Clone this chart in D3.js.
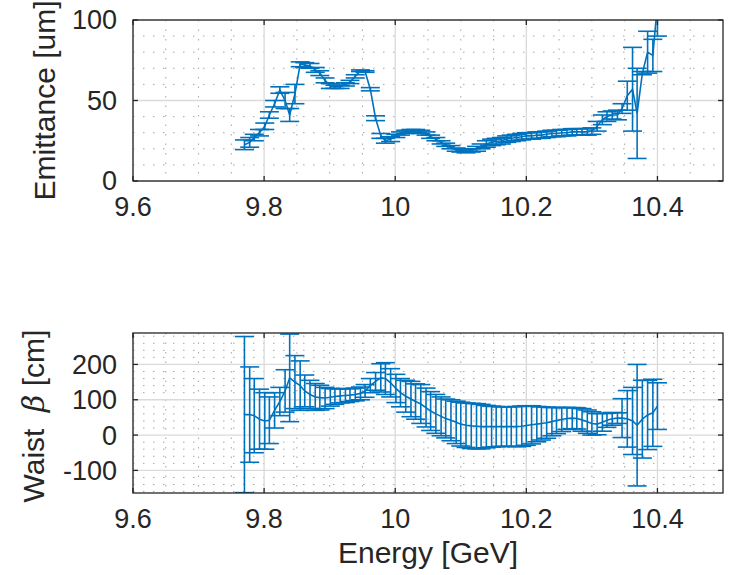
<!DOCTYPE html>
<html><head><meta charset="utf-8">
<script src="https://cdn.jsdelivr.net/npm/d3@7"></script>
<style>body{margin:0;background:#fff}svg{display:block}text{font-family:"Liberation Sans",Arial,Helvetica,sans-serif;fill:#262626}</style>
</head><body><svg id="c" width="731" height="575"></svg>
<script>
const energy=[9.770,9.778,9.785,9.793,9.801,9.808,9.816,9.824,9.832,9.839,
9.847,9.855,9.862,9.870,9.878,9.885,9.893,9.901,9.908,9.916,
9.924,9.931,9.939,9.947,9.954,9.962,9.970,9.978,9.985,9.993,
10.001,10.008,10.016,10.024,10.031,10.039,10.047,10.054,10.062,10.070,
10.077,10.085,10.093,10.100,10.108,10.116,10.124,10.131,10.139,10.147,
10.154,10.162,10.170,10.177,10.185,10.193,10.200,10.208,10.216,10.223,
10.231,10.239,10.246,10.254,10.262,10.270,10.277,10.285,10.293,10.300,
10.308,10.316,10.323,10.331,10.339,10.346,10.354,10.362,10.369,10.377,
10.385,10.393,10.400];
const emittance=[22.5,24,27,30,34,41,48,56.5,50,41,
54,72.5,72,71.5,69,67,62.5,59,58.5,58.5,
60,61.5,65,68.5,68,57,39,28,25,26,
28,29.5,30.5,31,31,30.5,29.5,27.5,26,24,
22.5,21,19.5,19,18.5,19,20,21.5,23,24,
24.5,25,26,26.5,27,27.5,28,28,28.5,28.5,
29,29.5,29.5,30,30,30.5,30.5,30.5,30.5,31,
34,38,40,41,41,45,53,57,42,67,
80,78,110];
const emittanceErr=[3,3,2,2,2,2,2,2,5,4,
6,1.5,1.5,1.5,1.5,1.5,1.5,1.5,1,1,
1,1,1,0.5,0.5,1,1.5,1.5,1.5,1.5,
1,1,1,1,1,1,1,1,1,1,
1,1,1,1,1,1,1.5,1.5,2,2,
2,2,2,2,2,2,2,2,2,2,
2,2,2,2,2,2,2,2,2,2,
3,3,3,2.5,3,3,9,26,28,1,
13,10,20];
const waist=[58,58,55,45,40,42,70,95,125,162,
150,140,125,115,108,106,105,107,109,111,
112,113,115,118,125,140,152,162,160,148,
132,120,110,102,95,88,78,68,60,53,
47,42,36,31,28,26,25,24,24,24,
24,24,24,24,24,25,27,29,31,33,
35,38,41,44,47,48,47,43,38,33,
31,36,42,46,48,48,46,40,28,45,
57,63,82];
const waistErr=[221,135,105,85,80,66,50,40,60,124,
75,70,45,40,38,35,30,25,22,20,
20,18,18,18,18,20,25,40,45,40,
40,40,45,50,50,55,55,55,55,55,
55,58,60,62,63,64,64,63,60,58,
57,56,56,56,57,57,56,54,50,47,
44,40,37,34,31,30,30,32,33,33,
30,25,20,18,15,55,80,95,172,110,
98,95,66];
const xTicks=[9.6,9.8,10,10.2,10.4];
const xTickLabels=["9.6","9.8","10","10.2","10.4"];
const emitTicks=[0,50,100];
const waistTicks=[-100,0,100,200];

const svg=d3.select("#c");
const blue="#0072BD", axc="#262626";
const L=133,R=723;
const x=d3.scaleLinear().domain([9.6,10.5]).range([L,R]);

function panel(cfg){
  const {top,bot,ydom,yticks,minorY,vals,errs,id}=cfg;
  const y=d3.scaleLinear().domain(ydom).range([bot,top]);
  const g=svg.append("g");
  g.append("clipPath").attr("id",id).append("rect").attr("x",L).attr("y",top).attr("width",R-L).attr("height",bot-top);
  // minor grid
  const xMinor=d3.range(9.65,10.5,0.05).filter(v=>!xTicks.some(t=>Math.abs(t-v)<1e-6));
  g.selectAll(".mx").data(xMinor).join("line").attr("x1",d=>x(d)).attr("x2",d=>x(d)).attr("y1",top).attr("y2",bot)
    .attr("stroke","#a6a6a6").attr("stroke-width",1).attr("stroke-dasharray","1.5,8");
  g.selectAll(".my").data(minorY).join("line").attr("y1",d=>y(d)).attr("y2",d=>y(d)).attr("x1",L).attr("x2",R)
    .attr("stroke","#a6a6a6").attr("stroke-width",1).attr("stroke-dasharray","1.5,8.5");
  // major grid
  g.selectAll(".gx").data(xTicks).join("line").attr("x1",d=>x(d)).attr("x2",d=>x(d)).attr("y1",top).attr("y2",bot)
    .attr("stroke","#dadada").attr("stroke-width",1.3);
  g.selectAll(".gy").data(yticks).join("line").attr("y1",d=>y(d)).attr("y2",d=>y(d)).attr("x1",L).attr("x2",R)
    .attr("stroke","#dadada").attr("stroke-width",1.3);
  // data
  const dg=g.append("g").attr("clip-path",`url(#${id})`);
  const cw=9.5;
  energy.forEach((e,i)=>{
    const cx=x(e), y1=y(vals[i]-errs[i]), y2=y(vals[i]+errs[i]);
    dg.append("line").attr("x1",cx).attr("x2",cx).attr("y1",y1).attr("y2",y2).attr("stroke",blue).attr("stroke-width",1.6);
    dg.append("line").attr("x1",cx-cw).attr("x2",cx+cw).attr("y1",y1).attr("y2",y1).attr("stroke",blue).attr("stroke-width",1.6);
    dg.append("line").attr("x1",cx-cw).attr("x2",cx+cw).attr("y1",y2).attr("y2",y2).attr("stroke",blue).attr("stroke-width",1.6);
  });
  dg.append("path").datum(vals).attr("fill","none").attr("stroke",blue).attr("stroke-width",1.6)
    .attr("d",d3.line().x((d,i)=>x(energy[i])).y(d=>y(d)));
  // axes box with inward ticks
  const ax=g.append("g");
  const tl=5;
  xTicks.forEach(t=>{
    ax.append("line").attr("x1",x(t)).attr("x2",x(t)).attr("y1",bot).attr("y2",bot-tl).attr("stroke",axc).attr("stroke-width",1.3);
    ax.append("line").attr("x1",x(t)).attr("x2",x(t)).attr("y1",top).attr("y2",top+tl).attr("stroke",axc).attr("stroke-width",1.3);
  });
  yticks.forEach(t=>{
    ax.append("line").attr("y1",y(t)).attr("y2",y(t)).attr("x1",L).attr("x2",L+tl).attr("stroke",axc).attr("stroke-width",1.3);
    ax.append("line").attr("y1",y(t)).attr("y2",y(t)).attr("x1",R).attr("x2",R-tl).attr("stroke",axc).attr("stroke-width",1.3);
  });
  ax.append("rect").attr("x",L).attr("y",top).attr("width",R-L).attr("height",bot-top).attr("fill","none").attr("stroke",axc).attr("stroke-width",1.3);
  // tick labels
  xTicks.forEach((t,i)=>{
    ax.append("text").attr("x",x(t)).attr("y",bot+35).attr("text-anchor","middle").attr("font-size",27).text(xTickLabels[i]);
  });
  yticks.forEach(t=>{
    ax.append("text").attr("x",L-16).attr("y",y(t)).attr("dy","0.35em").attr("text-anchor","end").attr("font-size",27).text(String(t));
  });
  return y;
}

panel({top:20,bot:181,ydom:[0,100],yticks:emitTicks,minorY:d3.range(10,100,10).filter(v=>v!==50),vals:emittance,errs:emittanceErr,id:"cp1"});
panel({top:333,bot:493,ydom:[-164,289],yticks:waistTicks,minorY:d3.range(-160,290,20).filter(v=>v%100!==0),vals:waist,errs:waistErr,id:"cp2"});

svg.append("text").attr("transform","translate(55,100.5) rotate(-90)").attr("text-anchor","middle").attr("font-size",30).text("Emittance [um]");
const wl=svg.append("text").attr("transform","translate(44,416) rotate(-90)").attr("text-anchor","middle").attr("font-size",30);
wl.append("tspan").text("Waist\u00a0\u00a0");
wl.append("tspan").attr("font-family","'DejaVu Serif',serif").attr("font-style","italic").attr("font-size",30).text("β");
wl.append("tspan").text(" [cm]");
svg.append("text").attr("x",428).attr("y",563).attr("text-anchor","middle").attr("font-size",30).text("Energy [GeV]");
</script></body></html>
